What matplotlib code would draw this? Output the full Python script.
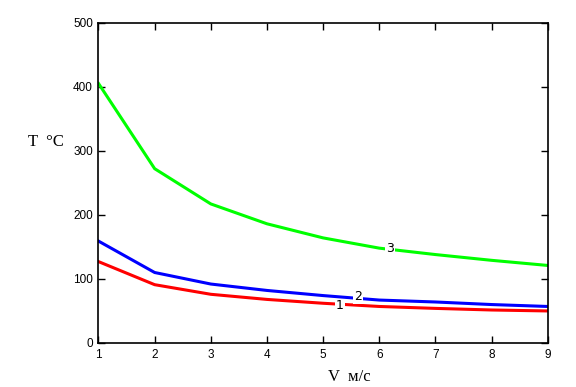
import matplotlib
matplotlib.use("Agg")
import matplotlib.pyplot as plt

v = [1, 2, 3, 4, 5, 6, 7, 8, 9]
t1 = [127, 91, 76, 68, 62, 57, 54, 51.5, 50]
t2 = [159, 110, 92, 82, 74, 67, 64, 60, 57]
t3 = [405, 272, 217, 186, 164, 148, 138, 129, 121]
curve_labels = ["1", "2", "3"]
label_pos = [(5.30, 58), (5.62, 72), (6.19, 148)]
xticks = [1, 2, 3, 4, 5, 6, 7, 8, 9]
yticks = [0, 100, 200, 300, 400, 500]

fig = plt.figure(figsize=(5.76, 3.87), dpi=100)
ax = fig.add_axes([0.171, 0.1137, 0.780, 0.828])

for y, c in zip([t1, t2, t3], ["#ff0000", "#0000ff", "#00ff00"]):
    ax.plot(v, y, color=c, lw=2.2, solid_joinstyle="miter")

for lab, (x, y) in zip(curve_labels, label_pos):
    ax.text(x, y, lab, ha="center", va="center", fontsize=9, family="DejaVu Sans",
            bbox=dict(boxstyle="square,pad=0.05", fc="white", ec="none"))

ax.set_xlim(1, 9)
ax.set_ylim(0, 500)
ax.set_xticks(xticks)
ax.set_yticks(yticks)
ax.tick_params(direction="in", length=5, width=1, labelsize=8.5, pad=4,
               top=True, right=True)
for lbl in ax.get_xticklabels() + ax.get_yticklabels():
    lbl.set_family("Liberation Sans")
for s in ax.spines.values():
    s.set_linewidth(1.2)

fig.text(28/576, 1 - 142/387, "T  °C", fontsize=12, family="Liberation Serif",
         ha="left", va="center")
fig.text(349/576, 1 - 377/387, "V  м/с", fontsize=12, family="Liberation Serif",
         ha="center", va="center")

fig.savefig("out.png", dpi=100)
